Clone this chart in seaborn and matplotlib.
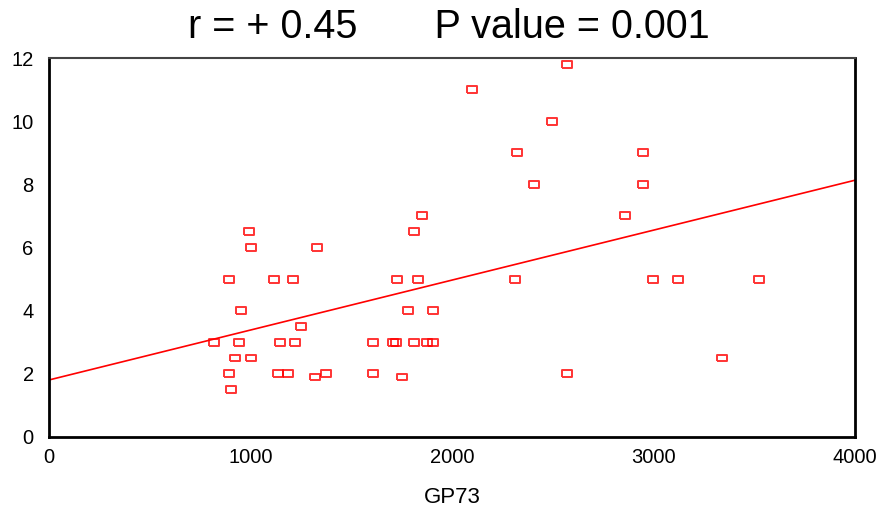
import numpy as np
import pandas as pd
import matplotlib
matplotlib.use("Agg")
import matplotlib.pyplot as plt
import seaborn as sns

gp73 = [819, 892, 892, 902, 923, 941, 951, 993, 1004, 1004,
        1117, 1135, 1146, 1188, 1209, 1219, 1251, 1320, 1332, 1373,
        1606, 1606, 1708, 1722, 1729, 1752, 1782, 1811, 1813, 1831,
        1853, 1874, 1904, 1907, 2099, 2314, 2324, 2407, 2498, 2569,
        2569, 2857, 2948, 2948, 2999, 3122, 3338, 3522]
yvals = [3, 5, 2, 1.5, 2.5, 3, 4, 6.5, 6, 2.5,
         5, 2, 3, 2, 5, 3, 3.5, 1.9, 6, 2,
         3, 2, 3, 3, 5, 1.9, 4, 6.5, 3, 5,
         7, 3, 4, 3, 11, 5, 9, 8, 10, 11.8,
         2, 7, 8, 9, 5, 5, 2.5, 5]
xticks = [0, 1000, 2000, 3000, 4000]
yticks = [0, 2, 4, 6, 8, 10, 12]
title = "r = + 0.45       P value = 0.001"
xlabel = "GP73"

df = pd.DataFrame({"GP73": gp73, "y": yvals})

sns.set_style("white")
plt.rcParams['font.family'] = ['Liberation Sans', 'DejaVu Sans']
plt.rcParams['text.color'] = 'black'
plt.rcParams['axes.labelcolor'] = 'black'
plt.rcParams['xtick.color'] = 'black'
plt.rcParams['ytick.color'] = 'black'

fig = plt.figure(figsize=(8.81, 5.08), dpi=100)
ax = fig.add_axes([0.0556, 0.1398, 0.9149, 0.746])
ax.set_xlim(0, 4000)
ax.set_ylim(0, 12)

rect = [(-1.45, -1), (1.45, -1), (1.45, 1), (-1.45, 1), (-1.45, -1)]
sns.regplot(data=df, x="GP73", y="y", ax=ax, ci=None, truncate=False,
            marker=rect,
            scatter_kws=dict(s=52, facecolors="none", edgecolors="#ff0000", linewidths=1.4),
            line_kws=dict(color="#ff0000", lw=1.2))

ax.set_xlim(0, 4000)
ax.set_ylim(0, 12)
ax.set_xticks(xticks)
ax.set_yticks(yticks)
ax.set_xticklabels([str(t) for t in xticks])
ax.set_yticklabels([str(t) for t in yticks])
ax.tick_params(axis="both", direction="out", length=3, width=3, color="black",
               labelsize=14.5, labelcolor="black")
ax.tick_params(axis="y", pad=8)
ax.tick_params(axis="x", pad=5)
for side in ["left", "bottom", "right"]:
    ax.spines[side].set_color("black")
    ax.spines[side].set_linewidth(2)
ax.spines["top"].set_color("#444444")
ax.spines["top"].set_linewidth(1.5)
ax.set_ylabel("")
ax.set_xlabel(xlabel, fontsize=16, labelpad=14, color="black")
fig.text(0.509, 0.947, title, ha="center", va="center", fontsize=28.5, color="black")

fig.savefig("out.png", dpi=100)
